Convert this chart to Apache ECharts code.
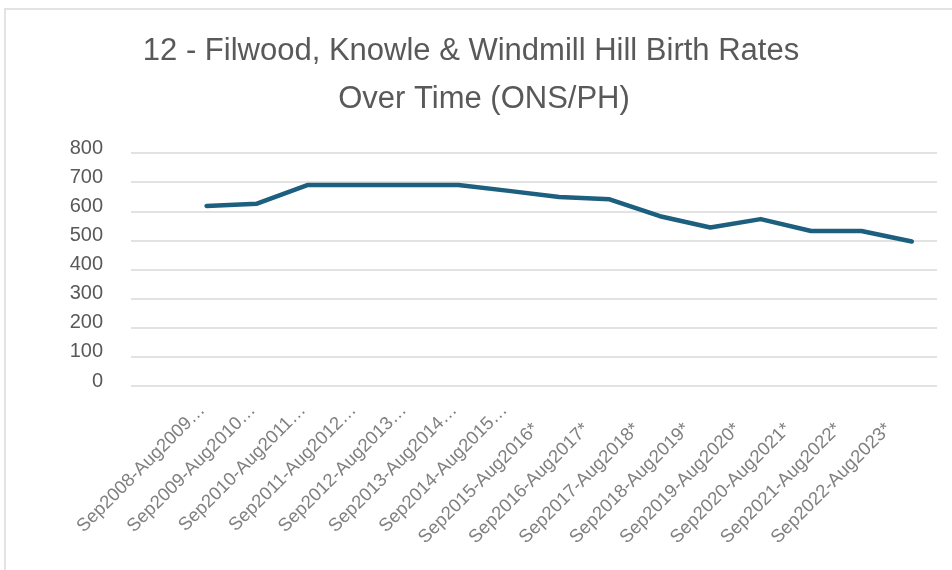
<!DOCTYPE html>
<html>
<head>
<meta charset="utf-8">
<script src="https://cdn.jsdelivr.net/npm/echarts@6/dist/echarts.min.js"></script>
<style>
  html, body { margin: 0; padding: 0; background: #fff; }
  #frame { position: absolute; left: 4px; top: 8px; width: 960px; height: 580px; border: 2px solid #e3e3e3; box-sizing: border-box; }
  #chart { position: absolute; left: 0; top: 0; width: 952px; height: 570px; }
</style>
</head>
<body>
<div id="frame"></div>
<div id="chart"></div>
<script>
// School-year periods (leading blank slot keeps the first plotted year off the left edge)
const categories = [
  '',
  'Sep2008-Aug2009…', 'Sep2009-Aug2010…', 'Sep2010-Aug2011…', 'Sep2011-Aug2012…',
  'Sep2012-Aug2013…', 'Sep2013-Aug2014…', 'Sep2014-Aug2015…', 'Sep2015-Aug2016*',
  'Sep2016-Aug2017*', 'Sep2017-Aug2018*', 'Sep2018-Aug2019*', 'Sep2019-Aug2020*',
  'Sep2020-Aug2021*', 'Sep2021-Aug2022*', 'Sep2022-Aug2023*'
];
// Births per school year
const births = [null, 618, 626, 690, 690, 690, 690, 670, 649, 641, 583, 544, 573, 532, 532, 496];
const yTicks = { min: 0, max: 800, interval: 100 };
const titleLines = ['12 - Filwood, Knowle & Windmill Hill Birth Rates', 'Over Time (ONS/PH)'];

const FONT = "'Liberation Sans', Arial, sans-serif";

// Provisional (*) periods sit further down the slant than the truncated ones
const xLabelData = categories.map(c => ({
  value: c,
  textStyle: c.endsWith('*') ? { padding: [0, 33, 0, 0] } : { padding: [12, 6, 0, 0] }
}));

const chart = echarts.init(document.getElementById('chart'), null, { renderer: 'canvas' });
chart.setOption({
  backgroundColor: 'transparent',
  animation: false,
  title: [
    {
      text: titleLines[0],
      left: 466, top: 31, textAlign: 'center',
      textStyle: { fontFamily: FONT, fontSize: 31, fontWeight: 'normal', color: '#595959' }
    },
    {
      text: titleLines[1],
      left: 479, top: 79, textAlign: 'center',
      textStyle: { fontFamily: FONT, fontSize: 31, fontWeight: 'normal', color: '#595959' }
    }
  ],
  grid: { left: 131, right: 15, top: 153, bottom: 184, containLabel: false },
  xAxis: {
    type: 'category',
    data: xLabelData,
    boundaryGap: true,
    axisLine: { show: false },
    axisTick: { show: false },
    axisLabel: {
      interval: 0,
      rotate: 45,
      margin: 17,
      fontFamily: FONT,
      fontSize: 18.5,
      color: '#808080'
    }
  },
  yAxis: {
    type: 'value',
    min: yTicks.min,
    max: yTicks.max,
    interval: yTicks.interval,
    axisLine: { show: false },
    axisTick: { show: false },
    splitLine: { lineStyle: { color: '#d9d9d9', width: 1.5 } },
    axisLabel: {
      margin: 28,
      fontFamily: FONT,
      fontSize: 20,
      color: '#595959',
      verticalAlign: 'bottom',
      lineHeight: 20,
      padding: [0, 0, -5, 0]
    }
  },
  series: [{
    type: 'line',
    data: births,
    showSymbol: false,
    symbol: 'none',
    lineStyle: { color: '#1d5f7f', width: 4.5, cap: 'round', join: 'round' },
    connectNulls: false
  }]
});
</script>
</body>
</html>
